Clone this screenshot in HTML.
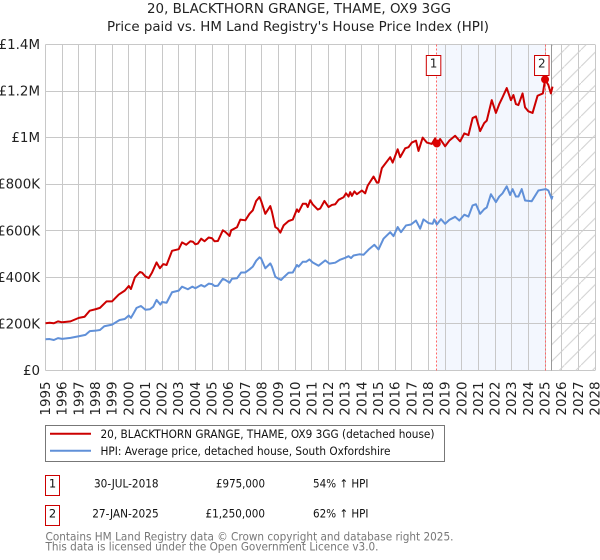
<!DOCTYPE html>
<html>
<head>
<meta charset="utf-8">
<style>
html,body{margin:0;padding:0;background:#fff;}
svg{display:block;font-family:"DejaVu Sans",sans-serif;}
</style>
</head>
<body>
<svg id="chart" width="600" height="560" viewBox="0 0 600 560" xmlns="http://www.w3.org/2000/svg">
<defs>
<pattern id="hatch" patternUnits="userSpaceOnUse" width="16.6" height="16.6">
<line x1="0" y1="16.6" x2="16.6" y2="0" stroke="#cfcfcf" stroke-width="1"/>
</pattern>
</defs>
<text x="299" y="13" font-size="13.3" text-anchor="middle" fill="#222" textLength="304" lengthAdjust="spacingAndGlyphs">20, BLACKTHORN GRANGE, THAME, OX9 3GG</text>
<text x="298" y="31" font-size="13.3" text-anchor="middle" fill="#222" textLength="382" lengthAdjust="spacingAndGlyphs">Price paid vs. HM Land Registry's House Price Index (HPI)</text>
<g id="plot"></g>

<g>
<rect x="45.5" y="425.5" width="399" height="36" fill="#fff" stroke="#777" stroke-width="1"/>
<line x1="50" y1="433.8" x2="91" y2="433.8" stroke="#cc0000" stroke-width="2"/>
<text x="100.5" y="438" font-size="11.5" fill="#111" textLength="334" lengthAdjust="spacingAndGlyphs">20, BLACKTHORN GRANGE, THAME, OX9 3GG (detached house)</text>
<line x1="50" y1="450.8" x2="91" y2="450.8" stroke="#6090d8" stroke-width="2"/>
<text x="100.5" y="455" font-size="11.5" fill="#111" textLength="290" lengthAdjust="spacingAndGlyphs">HPI: Average price, detached house, South Oxfordshire</text>
</g>

<g font-size="11.5" fill="#111">
<rect x="45.5" y="475.5" width="14" height="20" fill="#fff" stroke="#cc0000"/>
<text x="52.5" y="487.5" text-anchor="middle">1</text>
<text x="94" y="487.5" textLength="64.6" lengthAdjust="spacingAndGlyphs">30-JUL-2018</text>
<text x="216" y="487.5" textLength="49" lengthAdjust="spacingAndGlyphs">£975,000</text>
<text x="313" y="487.5" textLength="55.5" lengthAdjust="spacingAndGlyphs">54% ↑ HPI</text>
</g>
<g font-size="11.5" fill="#111">
<rect x="45.5" y="505.5" width="14" height="20" fill="#fff" stroke="#cc0000"/>
<text x="52.5" y="517.5" text-anchor="middle">2</text>
<text x="92.2" y="517.5" textLength="66.5" lengthAdjust="spacingAndGlyphs">27-JAN-2025</text>
<text x="205.5" y="517.5" textLength="59.5" lengthAdjust="spacingAndGlyphs">£1,250,000</text>
<text x="313" y="517.5" textLength="55.5" lengthAdjust="spacingAndGlyphs">62% ↑ HPI</text>
</g>
<text x="45.5" y="540.5" font-size="11.5" fill="#777" textLength="408" lengthAdjust="spacingAndGlyphs">Contains HM Land Registry data © Crown copyright and database right 2025.</text>
<text x="45.5" y="550.5" font-size="11.5" fill="#777" textLength="333" lengthAdjust="spacingAndGlyphs">This data is licensed under the Open Government Licence v3.0.</text>
</svg>

<script>
var priceYears = [1995,1995.25,1995.5,1995.75,1996,1996.5,1997,1997.35,1997.66,1998,1998.27,1998.67,1999,1999.4,1999.76,2000,2000.13,2000.37,2000.67,2000.8,2001,2001.2,2001.4,2001.67,2001.87,2002.07,2002.27,2002.6,2003,2003.2,2003.45,2003.7,2003.85,2004,2004.15,2004.35,2004.55,2004.8,2005,2005.15,2005.35,2005.65,2005.8,2006.05,2006.15,2006.5,2006.7,2007,2007.25,2007.45,2007.65,2007.85,2007.95,2008.2,2008.5,2008.6,2008.8,2008.95,2009.1,2009.3,2009.6,2009.85,2010.1,2010.2,2010.45,2010.65,2010.75,2010.9,2011.05,2011.35,2011.5,2011.75,2012,2012.2,2012.4,2012.6,2012.9,2013.05,2013.2,2013.3,2013.4,2013.55,2013.7,2014,2014.2,2014.35,2014.7,2014.9,2015,2015.2,2015.7,2015.85,2016.15,2016.3,2016.6,2016.8,2017,2017.25,2017.4,2017.65,2017.9,2018.2,2018.4,2018.5,2018.7,2019,2019.25,2019.6,2019.9,2020.15,2020.4,2020.65,2020.85,2021.1,2021.35,2021.5,2021.8,2022.05,2022.25,2022.4,2022.7,2022.95,2023.1,2023.25,2023.4,2023.65,2023.8,2024,2024.25,2024.55,2024.87,2025,2025.2,2025.35,2025.45];
var priceValues = [203,205,203,211,207,211,226,231,257,263,269,297,297,326,343,363,350,400,423,420,404,397,421,464,439,457,453,514,521,550,540,555,553,542,545,566,555,571,568,555,556,602,595,578,602,615,648,645,673,688,728,745,728,673,706,681,616,609,592,623,642,648,692,681,716,716,702,731,713,691,696,728,702,711,714,733,744,761,747,766,750,769,757,773,761,794,833,807,807,869,916,893,950,916,954,959,979,987,943,1000,979,973,997,969,994,963,987,1008,984,1018,1011,1084,1091,1028,1063,1073,1161,1106,1144,1166,1213,1161,1183,1144,1140,1190,1130,1113,1106,1180,1190,1250,1226,1190,1219];
var hpiYears = [1995,1995.25,1995.5,1995.75,1996,1996.5,1997,1997.4,1997.66,1998,1998.27,1998.53,1999,1999.45,1999.76,2000,2000.13,2000.27,2000.47,2000.73,2001,2001.27,2001.47,2001.67,2001.9,2002,2002.27,2002.6,2003,2003.2,2003.55,2003.82,2004,2004.35,2004.55,2004.8,2005,2005.15,2005.35,2005.65,2005.8,2006.05,2006.2,2006.5,2006.75,2007,2007.25,2007.45,2007.65,2007.85,2007.95,2008.2,2008.5,2008.6,2008.8,2008.95,2009.15,2009.3,2009.6,2009.85,2010.1,2010.2,2010.45,2010.65,2010.85,2011.05,2011.4,2011.8,2012.05,2012.4,2012.7,2013,2013.2,2013.35,2013.5,2013.85,2014.1,2014.4,2014.75,2015,2015.3,2015.7,2015.9,2016.15,2016.35,2016.65,2016.95,2017.25,2017.5,2017.7,2018,2018.25,2018.35,2018.5,2018.75,2019,2019.25,2019.6,2019.85,2020.15,2020.4,2020.65,2020.85,2021.1,2021.35,2021.5,2021.75,2022.05,2022.25,2022.45,2022.7,2022.9,2023.05,2023.25,2023.4,2023.6,2023.8,2024.2,2024.6,2024.8,2025.05,2025.2,2025.4,2025.45];
var hpiValues = [134,135,131,139,136,140,147,153,169,171,174,190,197,217,221,236,226,243,269,277,261,263,274,303,283,294,291,336,343,360,349,360,353,367,360,373,371,363,364,394,389,377,394,396,421,421,434,446,471,486,481,439,460,446,403,396,389,400,420,421,453,446,467,467,477,464,450,473,459,463,476,484,491,483,494,499,497,519,540,520,566,594,577,616,594,623,627,644,609,649,633,630,649,627,650,630,647,660,644,669,661,709,714,673,693,700,757,723,747,761,791,754,779,747,747,779,730,727,773,776,779,773,737,750];
var saleYears = [2018.5,2025];
var salePrices = [975,1250];
var saleLabels = ["1","2"];
var valueTicks = [0,200,400,600,800,1000,1200,1400];
var valueTickLabels = ["£0","£200K","£400K","£600K","£800K","£1M","£1.2M","£1.4M"];
var yearTicks = [1995,1996,1997,1998,1999,2000,2001,2002,2003,2004,2005,2006,2007,2008,2009,2010,2011,2012,2013,2014,2015,2016,2017,2018,2019,2020,2021,2022,2023,2024,2025,2026,2027,2028];
var dataEndYear = 2025.41;

var NS = "http://www.w3.org/2000/svg";
var plot = document.getElementById("plot");
var L = 45.5, R = 595, T = 44.5, B = 370.5;
function xScale(yr){ return L + (yr - yearTicks[0]) / (yearTicks[yearTicks.length-1] - yearTicks[0]) * (R - L); }
function yScale(v){ return B - v / valueTicks[valueTicks.length-1] * (B - T); }
function snap(p){ return Math.round(p - 0.5) + 0.5; }
function make(tag, attrs, text){
  var el = document.createElementNS(NS, tag);
  for (var k in attrs) el.setAttribute(k, attrs[k]);
  if (text !== undefined) el.textContent = text;
  plot.appendChild(el);
  return el;
}
function linePoints(xs, ys){
  var s = [];
  for (var i = 0; i < xs.length; i++) s.push(xScale(xs[i]).toFixed(2) + "," + yScale(ys[i]).toFixed(2));
  return s.join(" ");
}

var band = make("rect", {x:xScale(saleYears[0]), y:T, width:xScale(saleYears[1])-xScale(saleYears[0]), height:B-T, fill:"#f3f7fe"});



valueTicks.forEach(function(v, i){
  var g = make("line", {x1:L, x2:R, y1:snap(yScale(v)), y2:snap(yScale(v)), stroke:"#c8c8c8", "stroke-width":1});
  
  
  var t = make("text", {x:40, y:yScale(v)+4.5, "font-size":13.4, "text-anchor":"end", fill:"#222"}, valueTickLabels[i]);
  
  
});
yearTicks.forEach(function(yr){
  var x = xScale(yr);
  var g = make("line", {x1:snap(x), x2:snap(x), y1:T, y2:B, stroke:"#c8c8c8", "stroke-width":1});
  
  
  var t = make("text", {x:0, y:0, "font-size":13.4, "text-anchor":"end", fill:"#222", transform:"translate(" + (x+4.5) + ",381.5) rotate(-90)"}, String(yr));
  
  
});

var hatch = make("rect", {x:xScale(dataEndYear), y:T, width:R-xScale(dataEndYear), height:B-T, fill:"url(#hatch)"});


var endLine = make("line", {x1:snap(xScale(dataEndYear)), x2:snap(xScale(dataEndYear)), y1:T, y2:B, stroke:"#999", "stroke-width":1});



saleYears.forEach(function(yr){
  var d = make("line", {x1:snap(xScale(yr)), x2:snap(xScale(yr)), y1:T, y2:B, stroke:"#ff6666", "stroke-width":1, "stroke-dasharray":"2,2"});
  
  
});

var hpiLine = make("polyline", {points:linePoints(hpiYears, hpiValues), fill:"none", stroke:"#6090d8", "stroke-width":2, "stroke-linejoin":"round"});


var priceLine = make("polyline", {points:linePoints(priceYears, priceValues), fill:"none", stroke:"#cc0000", "stroke-width":2, "stroke-linejoin":"round"});



saleYears.forEach(function(yr, i){
  var x = xScale(yr);
  var c = make("circle", {cx:x, cy:yScale(salePrices[i]), r:4, fill:"#dd0000"});
  
  
  var b = make("rect", {x:x-10.5, y:55.5, width:14.5, height:20, fill:"#fff", stroke:"#cc0000", "stroke-width":1});
  
  
  var n = make("text", {x:x-3.2, y:67.5, "font-size":12, "text-anchor":"middle", fill:"#222"}, saleLabels[i]);
  
  
});
</script>
</body>
</html>
